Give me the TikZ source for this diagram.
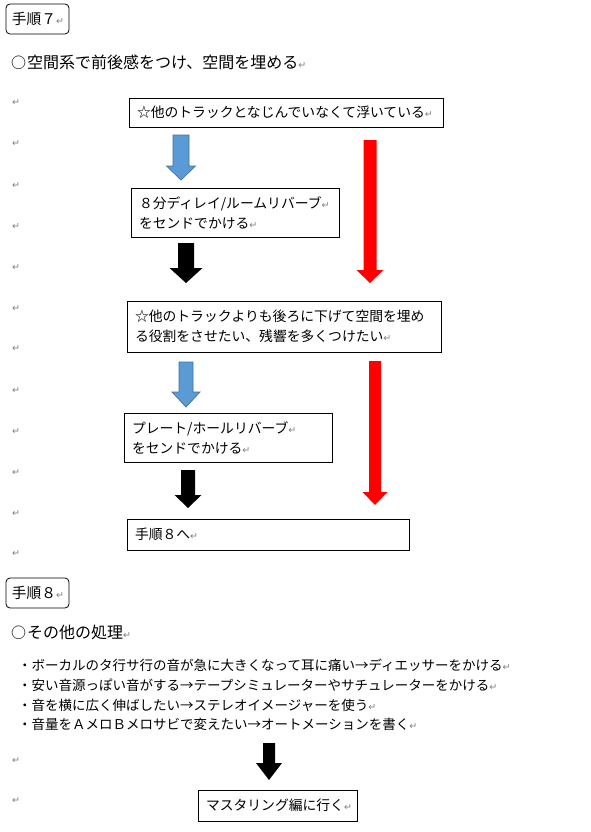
\documentclass[tikz,border=0pt]{standalone}
\usepackage{fontspec}
\setmainfont{Noto Sans CJK JP}
\newfontfamily\symfont{DejaVu Sans}
\definecolor{rgray}{HTML}{7F7F7F}
\definecolor{bluefill}{HTML}{5B9BD5}
\definecolor{blueline}{HTML}{41719C}
\definecolor{redfill}{HTML}{FF0000}
\newcommand{\rt}{{\symfont\fontsize{9.5}{9.5}\selectfont\color{rgray}↵}}
\newcommand{\maru}{\makebox[16pt][l]{\fontsize{15}{15}\selectfont ○}}
\newcommand{\bkarrow}[7]{%
  \path[#1] (#2-#6,#3) -- (#2+#6,#3) -- (#2+#6,#4) -- (#2+#7,#4) -- (#2,#5) -- (#2-#7,#4) -- (#2-#6,#4) -- cycle;}
\tikzset{
  box/.style={draw=black, line width=0.8pt, inner xsep=8pt, inner ysep=0pt, align=left,
    font=\fontsize{13.8}{20}\selectfont},
  rbox/.style={draw=black, line width=0.8pt, rounded corners=4pt, inner xsep=6pt, inner ysep=0pt,
    align=left, minimum height=30pt, text width=51pt, font=\fontsize{14.7}{18}\selectfont},
  head/.style={anchor=west, inner sep=0pt, font=\fontsize{16}{20}\selectfont},
  bullet/.style={anchor=west, inner sep=0pt, font=\fontsize{13.5}{18}\selectfont},
  parmark/.style={inner sep=0pt},
  bluearrow/.style={fill=bluefill, draw=blueline, line width=0.7pt},
  blackarrow/.style={fill=black},
  redarrow/.style={fill=redfill}
}
\begin{document}
\begin{tikzpicture}[x=1pt,y=-1pt]
\useasboundingbox[fill=white] (0,0) rectangle (591,832);

% titles
\node[rbox] (t7) at (37.5,19) {手順７\rt};
\node[head] (h7) at (11,62) {\maru 空間系で前後感をつけ、空間を埋める\rt};

% boxes
\node[box, minimum height=29pt, text width=298pt] (b1) at (286,112.5) {☆他のトラックとなじんでいなくて浮いている\rt};
\node[box, minimum height=49pt, text width=192pt] (b2) at (235,212.5) {８分ディレイ/ルームリバーブ\rt\\をセンドでかける\rt};
\node[box, minimum height=51pt, text width=298pt] (b3) at (284,326.5) {☆他のトラックよりも後ろに下げて空間を埋め\\る役割をさせたい、残響を多くつけたい\rt};
\node[box, minimum height=49pt, text width=192pt] (b4) at (228,437.5) {プレート/ホールリバーブ\rt\\をセンドでかける\rt};
\node[box, minimum height=31pt, text width=266pt] (b5) at (268,534.5) {手順８へ\rt};

% arrows
\bkarrow{bluearrow}{181}{135}{166}{180}{8}{14.5}
\bkarrow{blackarrow}{186}{243}{268}{283}{8}{16.5}
\bkarrow{bluearrow}{186}{362}{392}{407}{7}{14}
\bkarrow{blackarrow}{188}{470}{495}{508}{7}{13.5}
\bkarrow{redarrow}{370}{140}{270}{283}{6.5}{13.5}
\bkarrow{redarrow}{375}{361}{492}{505}{6}{12.5}
\bkarrow{blackarrow}{269}{743}{763}{780}{6}{13}

% step 8
\node[rbox] (t8) at (37.5,593) {手順８\rt};
\node[head] (h8) at (11,632) {\maru その他の処理\rt};
\node[bullet] (l1) at (18,665) {・ボーカルのタ行サ行の音が急に大きくなって耳に痛い→ディエッサーをかける\rt};
\node[bullet] (l2) at (18,685) {・安い音源っぽい音がする→テープシミュレーターやサチュレーターをかける\rt};
\node[bullet] (l3) at (18,705) {・音を横に広く伸ばしたい→ステレオイメージャーを使う\rt};
\node[bullet] (l4) at (18,724) {・音量をＡメロＢメロサビで変えたい→オートメーションを書く\rt};
\node[box, minimum height=31pt, text width=143pt] (b6) at (277.5,805.5) {マスタリング編に行く\rt};

% paragraph marks at left margin
\foreach \yy [count=\i] in {103,144,186,227,268,309,349,391,432,473,514,554,761,801}
  \node[parmark] (m\i) at (16,\yy) {\rt};
\end{tikzpicture}
\end{document}
